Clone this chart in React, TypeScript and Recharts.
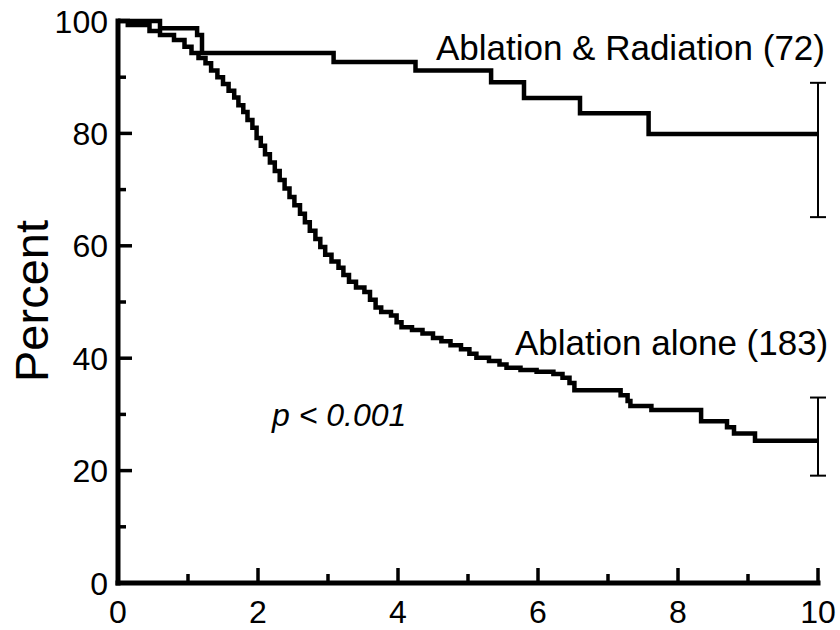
import { LineChart, Line, XAxis, YAxis, ErrorBar } from 'recharts'

const FONT = '"Liberation Sans", Arial, Helvetica, sans-serif'

// Ablation & Radiation (72): step times (years) and survival percent
const radiationYears = [0, 0.6, 1.13, 1.2, 3.08, 4.25, 5.33, 5.8, 6.6, 7.58, 10]
const radiationPct = [100, 98.7, 97.5, 94.3, 92.7, 91.2, 89.1, 86.3, 83.6, 79.9, 79.9]
const radiationCI = [65.1, 89.0]

// Ablation alone (183)
const aloneYears = [
  0, 0.14, 0.45, 0.6, 0.8, 0.95, 1.05, 1.15, 1.25, 1.33, 1.42, 1.5, 1.58, 1.66, 1.72, 1.79,
  1.85, 1.92, 1.98, 2.04, 2.1, 2.17, 2.24, 2.31, 2.38, 2.45, 2.52, 2.6, 2.67, 2.74, 2.82,
  2.89, 2.96, 3.05, 3.15, 3.22, 3.3, 3.4, 3.52, 3.6, 3.68, 3.76, 3.9, 3.98, 4.05, 4.2, 4.35,
  4.5, 4.62, 4.75, 4.9, 5.02, 5.12, 5.3, 5.45, 5.55, 5.75, 5.98, 6.22, 6.35, 6.45, 6.52,
  7.18, 7.28, 7.32, 7.62, 8.33, 8.7, 8.8, 9.1, 10,
]
const alonePct = [
  100, 99.3, 98.2, 97.5, 96.6, 95.4, 94.3, 93.4, 92.5, 91.2, 90, 88.8, 87.6, 86.4, 85, 83.8,
  82.4, 81, 79.2, 77.8, 76.3, 74.8, 73.3, 71.7, 70.2, 68.7, 67.2, 65.7, 64.2, 62.7, 61.2,
  59.8, 58.4, 57.2, 56.1, 54.8, 53.6, 52.6, 51.8, 50.4, 49, 48.2, 47.6, 46.4, 45.5, 45, 44.4,
  43.6, 43, 42.3, 41.6, 40.8, 40.1, 39.5, 38.9, 38.3, 37.9, 37.6, 37.2, 36.5, 35.6, 34.3,
  33.4, 32.4, 31.5, 30.8, 28.8, 27.7, 26.6, 25.3, 25.3,
]
const aloneCI = [19.1, 33.0]

const xTicks = [0, 1, 2, 3, 4, 5, 6, 7, 8, 9, 10]
const yTicks = [0, 10, 20, 30, 40, 50, 60, 70, 80, 90, 100]

function buildSeries(years: number[], pct: number[], ci: number[]) {
  return years.map((x, i) => {
    const last = i === years.length - 1
    return { x, y: pct[i], err: last ? [pct[i] - ci[0], ci[1] - pct[i]] : undefined }
  })
}

const radiationData = buildSeries(radiationYears, radiationPct, radiationCI)
const aloneData = buildSeries(aloneYears, alonePct, aloneCI)

function YTick(props: any) {
  const { x, y, payload } = props
  const major = payload.value % 20 === 0
  const axisX = x + 10
  return (
    <g>
      <line x1={axisX} x2={axisX + (major ? 14 : 8)} y1={y} y2={y} stroke="#000" strokeWidth={3.5} />
      {major && (
        <text x={x} y={y} dy="0.36em" textAnchor="end" fontSize={32} fontFamily={FONT} fill="#000">
          {payload.value}
        </text>
      )}
    </g>
  )
}

function XTick(props: any) {
  const { x, y, payload } = props
  const major = payload.value % 2 === 0
  return (
    <g>
      <line x1={x} x2={x} y1={y} y2={y - (major ? 15 : 9)} stroke="#000" strokeWidth={3.5} />
      {major && (
        <text x={x} y={y + 40} textAnchor="middle" fontSize={32} fontFamily={FONT} fill="#000">
          {payload.value}
        </text>
      )}
    </g>
  )
}

export default function App() {
  return (
    <div style={{ position: 'absolute', left: 0, top: 0, background: '#fff' }}>
      <LineChart width={840} height={630} margin={{ top: 21, right: 22, bottom: 0, left: 0 }}>
        <XAxis
          type="number"
          dataKey="x"
          domain={[0, 10]}
          ticks={xTicks}
          interval={0}
          tick={<XTick />}
          tickLine={false}
          tickSize={0}
          tickMargin={0}
          height={47}
          axisLine={{ stroke: '#000', strokeWidth: 5, strokeLinecap: 'square' }}
        />
        <YAxis
          type="number"
          domain={[0, 100]}
          ticks={yTicks}
          interval={0}
          tick={<YTick />}
          tickLine={false}
          tickSize={0}
          tickMargin={10}
          width={118}
          axisLine={{ stroke: '#000', strokeWidth: 5, strokeLinecap: 'square' }}
        />
        <Line
          data={radiationData}
          dataKey="y"
          type="stepAfter"
          stroke="#000"
          strokeWidth={4.5}
          dot={false}
          activeDot={false}
          isAnimationActive={false}
        >
          <ErrorBar dataKey="err" direction="y" width={8} stroke="#000" strokeWidth={2} isAnimationActive={false} />
        </Line>
        <Line
          data={aloneData}
          dataKey="y"
          type="stepAfter"
          stroke="#000"
          strokeWidth={4.5}
          dot={false}
          activeDot={false}
          isAnimationActive={false}
        >
          <ErrorBar dataKey="err" direction="y" width={8} stroke="#000" strokeWidth={2} isAnimationActive={false} />
        </Line>
        <text x={825} y={60} textAnchor="end" fontSize={35} fontFamily={FONT} fill="#000">
          Ablation &amp; Radiation (72)
        </text>
        <text x={515} y={355} textAnchor="start" fontSize={35} fontFamily={FONT} fill="#000">
          Ablation alone (183)
        </text>
        <text x={272} y={426} textAnchor="start" fontSize={32} fontStyle="italic" fontFamily={FONT} fill="#000">
          p &lt; 0.001
        </text>
        <text
          x={48}
          y={301}
          transform="rotate(-90, 48, 301)"
          textAnchor="middle"
          fontSize={47}
          fontFamily={FONT}
          fill="#000"
        >
          Percent
        </text>
      </LineChart>
    </div>
  )
}
